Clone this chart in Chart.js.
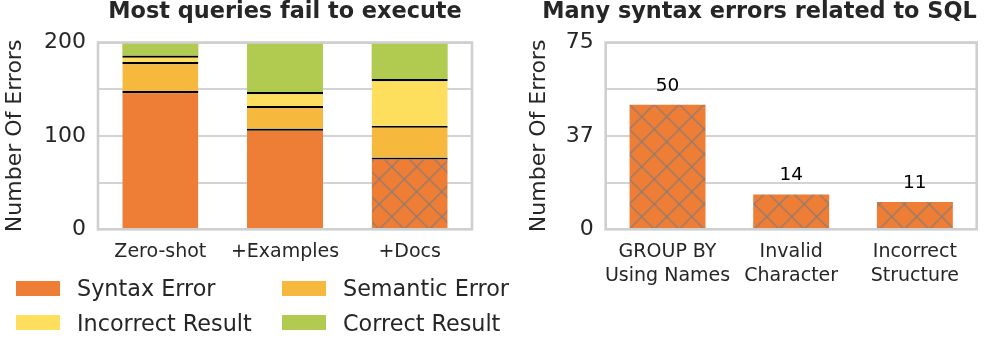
<!DOCTYPE html>
<html><head><meta charset="utf-8">
<script src="https://cdn.jsdelivr.net/npm/chart.js@4.4.1/dist/chart.umd.min.js"></script>
<style>
html,body{margin:0;padding:0;background:#fff;width:996px;height:353px;overflow:hidden;position:relative;font-family:"DejaVu Sans";}
#c1{position:absolute;left:0;top:0;}
#c2{position:absolute;left:524px;top:0;}
.lg-box{position:absolute;width:44px;height:15px;}
.lg-txt{position:absolute;font-size:22.3px;line-height:22px;color:#262626;white-space:nowrap;}
</style></head><body>
<canvas id="c1" width="500" height="290"></canvas>
<canvas id="c2" width="472" height="290"></canvas>
<div id="legend"></div>
<script>
// ---- data ----
const categories = ['Zero-shot', '+Examples', '+Docs'];
const syntaxErrors = [148, 108, 77];
const semanticErrors = [31, 24, 34];
const incorrectResults = [7, 15, 50];
const correctResults = [14, 53, 39];
const seriesNames = ['Syntax Error', 'Semantic Error', 'Incorrect Result', 'Correct Result'];
const leftTickValues = [0, 50, 100, 150, 200];
const leftTickLabels = ['0', '', '100', '', '200'];

const syntaxCategories = [['GROUP BY', 'Using Names'], ['Invalid', 'Character'], ['Incorrect', 'Structure']];
const syntaxCounts = [50, 14, 11];
const rightTickValues = [0, 18.75, 37.5, 56.25, 75];
const rightTickLabels = ['0', '', '37', '', '75'];

const leftTitle = 'Most queries fail to execute';
const rightTitle = 'Many syntax errors related to SQL';
const yAxisTitle = 'Number Of Errors';

// ---- styles ----
const FAM = '"DejaVu Sans"';
const TXT = '#262626';
const seriesColors = ['#EE7D35', '#F6B93E', '#FEDF5D', '#B1CB51'];
Chart.defaults.font.family = FAM;
Chart.defaults.color = TXT;

function hatch(ctx, base, dx, dy) {
  const t = document.createElement('canvas'); t.width = 25; t.height = 25;
  const g = t.getContext('2d');
  g.fillStyle = base; g.fillRect(0, 0, 25, 25);
  g.strokeStyle = '#7d7d7d'; g.lineWidth = 1.1;
  g.beginPath();
  for (const c of [-25, 0, 25]) { g.moveTo(c - 5, -5); g.lineTo(c + 30, 30); }
  for (const c of [0, 25, 50]) { g.moveTo(c + 5, -5); g.lineTo(c - 30, 30); }
  g.stroke();
  const p = ctx.createPattern(t, 'repeat');
  p.setTransform(new DOMMatrix([1, 0, 0, 1, dx, dy]));
  return p;
}

const framePlugin = {
  id: 'frame',
  afterDatasetsDraw(chart) {
    const {ctx, chartArea: a} = chart;
    ctx.save();
    ctx.strokeStyle = '#cfcfcf'; ctx.lineWidth = 2.6;
    ctx.strokeRect(a.left, a.top, a.right - a.left, a.bottom - a.top);
    ctx.restore();
  }
};

const valueLabelPlugin = {
  id: 'valueLabels',
  afterDraw(chart, args, opts) {
    if (!opts || !opts.show) return;
    const ctx = chart.ctx;
    const meta = chart.getDatasetMeta(0);
    ctx.save();
    ctx.font = '18.5px ' + FAM; ctx.fillStyle = '#000';
    ctx.textAlign = 'center'; ctx.textBaseline = 'middle';
    meta.data.forEach((bar, i) => {
      ctx.fillText(String(chart.data.datasets[0].data[i]), bar.x, bar.y - 19);
    });
    ctx.restore();
  }
};

function yScale(max, values, labels, width) {
  return {
    min: 0, max: max,
    afterBuildTicks: s => { s.ticks = values.map(v => ({value: v})); },
    afterFit: s => { s.width = width; },
    ticks: {
      autoSkip: false, padding: 12, color: TXT,
      font: {size: 22, family: FAM},
      callback: v => labels[values.indexOf(v)]
    },
    grid: {color: '#d3d3d3', lineWidth: 2, drawTicks: false},
    border: {display: false},
    title: {display: true, text: yAxisTitle, color: TXT,
      font: {size: 22, family: FAM, lineHeight: 1.2}, padding: {top: 2.5, bottom: 0}}
  };
}

function xScale(stacked, canvasH) {
  return {
    stacked: stacked,
    grid: {display: false, drawTicks: false},
    border: {display: false},
    afterFit: s => { s.height = canvasH - 229.3; },
    ticks: {autoSkip: false, maxRotation: 0, padding: 10.7, color: TXT,
      font: {size: 19, family: FAM, lineHeight: 1.263}}
  };
}

const titleFont = {size: 22.4, weight: 'bold', family: FAM, lineHeight: 1.0};
const titlePad = {top: 1.0, bottom: 19.1};

// ---- left chart ----
const c1 = document.getElementById('c1');
const ctx1 = c1.getContext('2d');
const leftSeries = [syntaxErrors, semanticErrors, incorrectResults, correctResults];
const docsHatch = hatch(ctx1, seriesColors[0], 4.2, 4.2);
const leftDatasets = leftSeries.map((d, i) => ({
  label: seriesNames[i],
  data: d,
  backgroundColor: i === 0 ? d.map((_, j) => j === 2 ? docsHatch : seriesColors[0]) : seriesColors[i],
  borderColor: '#000',
  borderWidth: i < 3 ? {top: 2.2, right: 0, bottom: 0, left: 0} : 0,
  borderSkipped: false,
  barPercentage: 0.61, categoryPercentage: 1.0
}));

new Chart(ctx1, {
  type: 'bar',
  data: {labels: categories, datasets: leftDatasets},
  options: {
    responsive: false, animation: false, devicePixelRatio: 1,
    layout: {padding: {left: 0, right: 28, top: 0, bottom: 0}},
    plugins: {
      legend: {display: false}, tooltip: {enabled: false},
      title: {display: true, text: leftTitle, fullSize: false, align: 'center', color: TXT,
        font: titleFont, padding: titlePad},
      valueLabels: {show: false}
    },
    scales: {x: xScale(true, 290), y: Object.assign(yScale(200, leftTickValues, leftTickLabels, 98), {stacked: true})}
  },
  plugins: [framePlugin, valueLabelPlugin]
});

// ---- right chart ----
const c2 = document.getElementById('c2');
const ctx2 = c2.getContext('2d');
const rightHatch = hatch(ctx2, seriesColors[0], 5.2, 4.2);
new Chart(ctx2, {
  type: 'bar',
  data: {labels: syntaxCategories, datasets: [{
    label: 'Syntax Error', data: syntaxCounts, backgroundColor: rightHatch, borderWidth: 0,
    barPercentage: 0.614, categoryPercentage: 1.0
  }]},
  options: {
    responsive: false, animation: false, devicePixelRatio: 1,
    layout: {padding: {left: 0, right: 19.3, top: 0, bottom: 0}},
    plugins: {
      legend: {display: false}, tooltip: {enabled: false},
      title: {display: true, text: rightTitle, fullSize: true, align: 'end', color: TXT,
        font: titleFont, padding: titlePad},
      valueLabels: {show: true}
    },
    scales: {x: xScale(false, 290), y: yScale(75, rightTickValues, rightTickLabels, 81.7)}
  },
  plugins: [framePlugin, valueLabelPlugin]
});

// ---- legend (HTML, built from series arrays) ----
const lg = document.getElementById('legend');
const colX = [15.7, 281.7];
const rowY = [280.7, 315.3];
seriesNames.forEach((name, i) => {
  const col = i % 2, row = Math.floor(i / 2);
  const b = document.createElement('div');
  b.className = 'lg-box';
  b.style.left = colX[col] + 'px'; b.style.top = rowY[row] + 'px';
  b.style.background = seriesColors[i];
  lg.appendChild(b);
  const t = document.createElement('div');
  t.className = 'lg-txt';
  t.textContent = name;
  t.style.left = (colX[col] + 61.3) + 'px';
  t.style.top = (rowY[row] - 3.6) + 'px';
  lg.appendChild(t);
});
</script>
</body></html>
